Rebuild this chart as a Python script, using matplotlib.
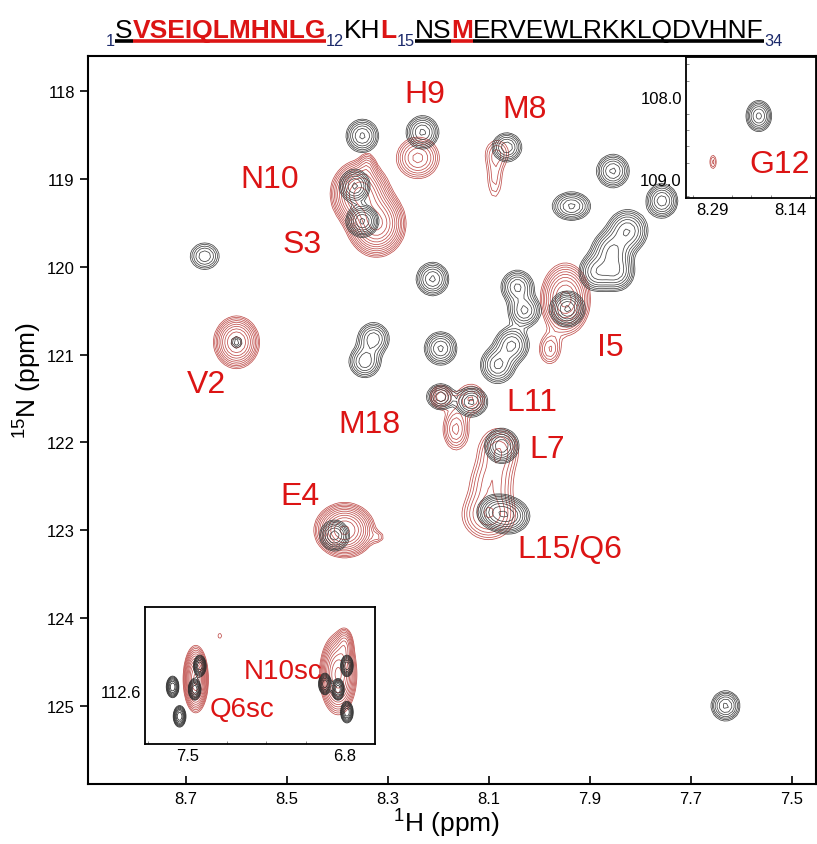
import numpy as np
import matplotlib
matplotlib.use("Agg")
import matplotlib.pyplot as plt
from matplotlib.lines import Line2D

plt.rcParams["font.family"] = ["Liberation Sans", "DejaVu Sans"]
plt.rcParams["mathtext.fontset"] = "custom"
plt.rcParams["mathtext.rm"] = "Liberation Sans"
plt.rcParams["mathtext.default"] = "regular"

# free peptide peaks (black): 1H, 15N, widths, heights
black_h = [8.350, 8.365, 8.350, 8.231, 8.064, 7.854, 7.936, 7.757, 7.825, 7.856, 7.886, 7.847,
           7.944, 8.662, 8.211, 8.043, 8.029, 8.195, 8.082, 8.054, 8.328, 8.345, 8.195, 8.134,
           8.074, 8.084, 8.058, 8.405, 8.599, 7.631]
black_n = [118.51, 119.08, 119.48, 118.47, 118.64, 118.91, 119.31, 119.25, 119.59, 119.82, 120.06, 120.06,
           120.48, 119.88, 120.14, 120.23, 120.50, 120.93, 121.12, 120.89, 120.82, 121.08, 121.48, 121.54,
           122.04, 122.79, 122.84, 123.06, 120.86, 125.00]
black_wh = [0.017, 0.016, 0.016, 0.017, 0.016, 0.017, 0.020, 0.016, 0.020, 0.020, 0.018, 0.018,
            0.017, 0.017, 0.017, 0.017, 0.017, 0.017, 0.018, 0.018, 0.017, 0.017, 0.015, 0.017,
            0.017, 0.020, 0.020, 0.015, 0.008, 0.015]
black_wn = [0.10, 0.10, 0.09, 0.10, 0.09, 0.10, 0.085, 0.10, 0.12, 0.12, 0.11, 0.11,
            0.10, 0.09, 0.10, 0.10, 0.10, 0.10, 0.11, 0.11, 0.10, 0.10, 0.08, 0.09,
            0.10, 0.10, 0.10, 0.09, 0.05, 0.09]
black_amp = [0.9, 0.9, 1.2, 0.9, 0.8, 0.9, 0.9, 1.0, 1.1, 1.1, 1.0, 1.0,
             1.2, 0.6, 0.9, 0.9, 0.9, 0.9, 0.9, 0.9, 0.8, 0.8, 0.8, 0.9,
             1.1, 1.0, 1.0, 1.0, 0.35, 0.9]

# bound peptide peaks (red)
red_h = [8.355, 8.322, 8.340, 8.240, 8.082, 8.088, 7.948, 7.979, 8.599, 8.195, 8.165, 8.135,
         8.080, 8.095, 8.100, 8.385, 8.318, 7.631]
red_n = [119.17, 119.51, 118.85, 118.76, 118.70, 119.00, 120.37, 120.94, 120.86, 121.48, 121.85, 121.50,
         122.09, 122.45, 122.83, 123.00, 123.08, 125.02]
red_wh = [0.026, 0.026, 0.010, 0.025, 0.020, 0.013, 0.024, 0.015, 0.022, 0.014, 0.016, 0.020,
          0.026, 0.028, 0.032, 0.027, 0.010, 0.004]
red_wn = [0.17, 0.17, 0.10, 0.14, 0.12, 0.20, 0.20, 0.12, 0.145, 0.09, 0.15, 0.12,
          0.17, 0.17, 0.17, 0.14, 0.05, 0.06]
red_amp = [1.5, 1.5, 0.25, 0.5, 0.2, 0.2, 1.0, 0.3, 1.0, 0.35, 0.4, 0.3,
           0.35, 0.3, 0.45, 1.5, 0.15, 0.14]

# assignment labels
label_text = ["H9", "M8", "N10", "S3", "V2", "I5", "M18", "L11", "L7", "E4", "L15/Q6"]
label_h = [8.227, 8.029, 8.534, 8.470, 8.658, 7.860, 8.336, 8.015, 7.985, 8.474, 7.940]
label_n = [118.03, 118.20, 119.00, 119.74, 121.33, 120.91, 121.79, 121.54, 122.07, 122.61, 123.21]

# side-chain inset (bottom left)
sc_black_h = [7.567, 7.536, 7.446, 7.469, 6.889, 6.831, 6.791, 6.791]
sc_black_n = [112.53, 113.02, 112.18, 112.57, 112.48, 112.57, 112.18, 112.95]
sc_red_h = [7.464, 7.357, 6.830, 6.800]
sc_red_n = [112.40, 111.68, 112.32, 111.82]
sc_red_wh = [0.025, 0.012, 0.037, 0.020]
sc_red_wn = [0.25, 0.06, 0.30, 0.15]
sc_red_amp = [1.5, 0.15, 1.5, 0.4]
sc_label_text = ["N10sc", "Q6sc"]
sc_label_h = [7.076, 7.260]
sc_label_n = [112.27, 112.90]

# glycine inset (top right)
g_black = (8.200, 108.23)
g_red = (8.288, 108.79)
g_label = ("G12", 8.159, 108.82)

# sequence header
seq_text = ["1", "S", "VSEIQLMHNLG", "12", "KH", "L", "15", "NS", "M", "ERVEWLRKKLQDVHNF", "34"]
seq_kind = ["sub", "norm", "bold", "sub", "norm", "bold", "sub", "norm", "bold", "norm", "sub"]
seq_line = ["", "k", "r", "", "", "", "", "k", "r", "k", ""]

RED_TXT = "#dc1414"
RED_CT = "#c0504d"
BLK_CT = "#444444"
NAVY = "#1c2a6b"


def peak_field(hh, nn, h0, n0, wh, wn, amp):
    z = np.zeros_like(hh)
    for a, b, c, d, e in zip(h0, n0, wh, wn, amp):
        z += e * np.exp(-0.5 * ((hh - a) / c) ** 2 - 0.5 * ((nn - b) / d) ** 2)
    return z


black_levels = 0.15 * 1.33 ** np.arange(10)
red_levels = 0.12 * 1.25 ** np.arange(16)

fig = plt.figure(figsize=(8.17, 8.45), dpi=100)
W, H = 817, 845
ax = fig.add_axes([88 / W, 1 - 785 / H, 728 / W, 728 / H])

hh, nn = np.meshgrid(np.linspace(7.40, 8.95, 200), np.linspace(117.5, 126.0, 200))
zr = peak_field(hh, nn, red_h, red_n, red_wh, red_wn, red_amp)
zb = peak_field(hh, nn, black_h, black_n, black_wh, black_wn, black_amp)
ax.contour(hh, nn, zr, levels=red_levels, colors=RED_CT, linewidths=0.55)
ax.contour(hh, nn, zb, levels=black_levels, colors=BLK_CT, linewidths=0.55)

for t, x, y in zip(label_text, label_h, label_n):
    ax.text(x, y, t, color=RED_TXT, fontsize=23, ha="center", va="center")

ax.set_xlim(8.893, 7.452)
ax.set_ylim(125.89, 117.6)
ax.set_xticks([8.7, 8.5, 8.3, 8.1, 7.9, 7.7, 7.5])
ax.set_xticklabels(["8.7", "8.5", "8.3", "8.1", "7.9", "7.7", "7.5"])
ax.set_yticks(range(118, 126))
ax.tick_params(axis="x", direction="in", length=6, width=1.2, labelsize=12, pad=5)
ax.tick_params(axis="y", direction="out", length=6, width=1.2, labelsize=12)
for s in ax.spines.values():
    s.set_linewidth(1.5)
ax.set_xlabel("$^{1}$H (ppm)", fontsize=19, va="top")
ax.set_ylabel("$^{15}$N (ppm)", fontsize=19, va="center")
ax.xaxis.set_label_coords(0.492, -0.032)
ax.yaxis.set_label_coords(-0.082, 0.556)

# side-chain inset
ax1 = fig.add_axes([145 / W, 1 - 745 / H, 230 / W, 137 / H])
h1, n1 = np.meshgrid(np.linspace(6.60, 7.75, 170), np.linspace(111.1, 113.6, 120))
z1r = peak_field(h1, n1, sc_red_h, sc_red_n, sc_red_wh, sc_red_wn, sc_red_amp)
nb = len(sc_black_h)
z1b = peak_field(h1, n1, sc_black_h, sc_black_n, [0.014] * nb, [0.09] * nb, [1.1] * nb)
ax1.contour(h1, n1, z1r, levels=red_levels, colors=RED_CT, linewidths=0.55)
ax1.contour(h1, n1, z1b, levels=black_levels, colors="#2a2a2a", linewidths=0.55)
for t, x, y in zip(sc_label_text, sc_label_h, sc_label_n):
    ax1.text(x, y, t, color=RED_TXT, fontsize=20, ha="center", va="center")
ax1.set_xlim(7.69, 6.666)
ax1.set_ylim(113.48, 111.2)
ax1.set_xticks([7.5, 6.8])
ax1.set_xticklabels(["7.5", "6.8"])
ax1.set_yticks([112.6])
ax1.set_yticklabels(["112.6"])

# glycine inset
ax2 = fig.add_axes([686 / W, 1 - 199 / H, 130 / W, 141 / H])
h2, n2 = np.meshgrid(np.linspace(8.05, 8.38, 90), np.linspace(107.4, 109.3, 90))
z2r = peak_field(h2, n2, [g_red[0]], [g_red[1]], [0.006], [0.08], [0.2])
z2b = peak_field(h2, n2, [g_black[0]], [g_black[1]], [0.013], [0.10], [0.9])
ax2.contour(h2, n2, z2r, levels=red_levels, colors=RED_CT, linewidths=0.55)
ax2.contour(h2, n2, z2b, levels=black_levels, colors=BLK_CT, linewidths=0.55)
ax2.text(g_label[1], g_label[2], g_label[0], color=RED_TXT, fontsize=23, ha="center", va="center")
ax2.set_xlim(8.34, 8.09)
ax2.set_ylim(109.23, 107.51)
ax2.set_xticks([8.29, 8.14])
ax2.set_xticklabels(["8.29", "8.14"])
ax2.set_yticks([108.0, 109.0])
ax2.set_yticklabels(["108.0", "109.0"])

for a in (ax1, ax2):
    a.set_facecolor("white")
    a.minorticks_on()
    a.tick_params(which="major", length=0, labelsize=12, pad=3)
    a.tick_params(which="minor", direction="in", length=2.5, width=0.6, color="#777777",
                  top=False, right=False)
    for s in a.spines.values():
        s.set_linewidth(1.3)

# sequence header, laid out piece by piece
fig.canvas.draw()
renderer = fig.canvas.get_renderer()


def layout_sequence(size, draw):
    x = 106.0
    spans = []
    for txt, kind, ln in zip(seq_text, seq_kind, seq_line):
        if kind == "sub":
            t = fig.text(x / W, (845 - 46) / H, txt, fontsize=size * 0.62, color=NAVY,
                         va="baseline", ha="left")
        elif kind == "bold":
            t = fig.text(x / W, (845 - 38) / H, txt, fontsize=size, color=RED_TXT,
                         fontweight="bold", va="baseline", ha="left")
        else:
            t = fig.text(x / W, (845 - 38) / H, txt, fontsize=size, color="black",
                         va="baseline", ha="left")
        bb = t.get_window_extent(renderer=renderer)
        spans.append((bb.x0, bb.x1, ln))
        x = bb.x1
        if not draw:
            t.remove()
    return x, spans


end, _ = layout_sequence(18.6, False)
size = 18.6 * (783 - 106) / (end - 106)
end, spans = layout_sequence(size, True)
for x0, x1, ln in spans:
    if ln:
        col = "black" if ln == "k" else RED_TXT
        fig.add_artist(Line2D([x0 / W, x1 / W], [(845 - 41.5) / H] * 2, color=col,
                              lw=2.6, solid_capstyle="butt", transform=fig.transFigure))

fig.savefig("out.png", dpi=100)
